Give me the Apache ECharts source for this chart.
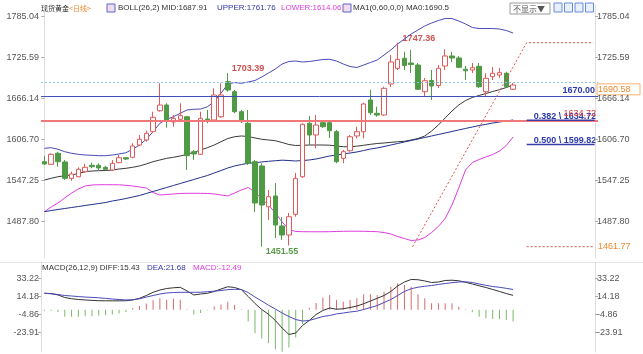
<!DOCTYPE html>
<html><head><meta charset="utf-8">
<script src="https://cdn.jsdelivr.net/npm/echarts@6/dist/echarts.min.js"></script>
<style>html,body{margin:0;padding:0;background:#fff}#c{width:643px;height:354px}</style>
</head><body><div id="c"></div>
<script>
// ---------- data ----------
const candleOpen = [1574.8,1571.0,1587.0,1574.4,1550.7,1553.0,1560.3,1569.6,1569.6,1566.7,1562.8,1573.4,1580.6,1581.2,1599.0,1606.3,1618.3,1648.7,1657.0,1632.4,1636.3,1640.0,1589.3,1585.5,1636.7,1635.3,1640.0,1690.8,1676.3,1647.3,1630.5,1574.8,1568.6,1509.5,1525.1,1481.6,1468.5,1498.5,1553.0,1630.5,1613.5,1631.4,1631.4,1618.3,1579.7,1590.7,1612.1,1618.3,1664.3,1645.0,1642.5,1687.5,1710.2,1724.7,1717.9,1715.0,1676.3,1692.5,1685.3,1713.6,1728.1,1725.2,1708.8,1707.8,1713.1,1676.3,1698.1,1700.5,1703.0,1679.8];
const candleClose = [1571.5,1585.5,1574.8,1550.7,1557.0,1563.8,1566.7,1567.5,1565.7,1563.8,1572.5,1580.6,1578.7,1597.6,1607.3,1616.0,1639.2,1657.0,1635.3,1637.7,1641.5,1583.5,1586.0,1637.7,1634.2,1671.5,1671.5,1678.8,1647.3,1632.8,1572.5,1514.9,1512.0,1524.0,1483.0,1468.5,1495.0,1550.7,1629.0,1613.5,1628.0,1625.5,1619.7,1574.8,1589.3,1611.0,1618.3,1658.5,1645.8,1642.5,1681.2,1719.4,1723.3,1714.3,1715.7,1679.8,1692.2,1684.6,1710.2,1728.1,1725.2,1711.7,1706.6,1711.1,1683.5,1695.7,1703.0,1703.9,1683.5,1686.0];
const candleLow = [1570.0,1570.0,1567.5,1548.3,1547.2,1552.2,1558.8,1565.2,1562.8,1561.8,1561.3,1572.5,1577.3,1579.7,1597.6,1603.8,1616.8,1647.3,1624.1,1625.5,1632.8,1562.8,1577.3,1584.5,1630.5,1633.8,1638.2,1676.3,1645.0,1630.9,1570.0,1501.9,1451.55,1490.3,1464.2,1461.3,1453.3,1495.0,1551.2,1599.0,1594.2,1623.7,1609.2,1572.5,1572.5,1589.3,1608.7,1608.7,1642.5,1640.0,1641.1,1683.1,1707.8,1707.8,1703.4,1678.8,1670.1,1664.3,1681.7,1707.8,1719.4,1710.7,1693.3,1703.4,1681.7,1669.0,1693.3,1696.2,1682.7,1678.8];
const candleHigh = [1583.5,1587.0,1589.3,1577.3,1560.3,1566.7,1571.5,1573.4,1572.5,1568.6,1577.3,1584.5,1581.2,1601.5,1613.5,1619.7,1647.3,1688.5,1659.5,1642.5,1659.5,1641.1,1591.8,1647.3,1649.8,1681.2,1688.5,1703.39,1678.8,1649.8,1649.8,1577.3,1572.5,1533.8,1543.9,1494.6,1500.4,1558.4,1630.5,1641.1,1642.5,1635.3,1634.3,1620.8,1591.8,1613.5,1625.5,1660.4,1678.8,1654.5,1683.5,1729.5,1747.36,1734.3,1736.8,1717.9,1696.2,1707.8,1715.0,1737.8,1733.9,1728.1,1713.6,1717.9,1717.9,1703.0,1712.1,1710.7,1705.3,1688.9];

const bollUpper = [1594.2,1595.1,1592.8,1589.3,1587.0,1585.5,1584.5,1584.1,1583.5,1583.5,1584.5,1586.0,1587.8,1592.8,1599.0,1607.3,1618.3,1630.5,1636.3,1640.0,1645.0,1649.8,1650.8,1651.2,1654.5,1661.8,1674.0,1687.5,1689.6,1688.5,1690.4,1692.5,1697.6,1703.4,1709.2,1716.5,1720.1,1720.8,1719.4,1720.1,1721.5,1723.0,1723.3,1720.8,1716.5,1712.8,1711.4,1715.0,1718.6,1722.3,1729.5,1736.8,1745.5,1752.7,1760.0,1765.8,1771.6,1775.9,1779.5,1782.4,1782.4,1778.8,1774.5,1769.4,1767.9,1767.9,1767.9,1767.2,1765.0,1761.4];
const bollMid = [1548.3,1550.7,1553.0,1554.5,1555.5,1557.7,1560.2,1561.3,1561.8,1562.0,1562.8,1564.2,1565.2,1566.7,1568.6,1571.5,1574.8,1577.3,1579.7,1581.2,1583.1,1585.5,1588.4,1591.8,1595.1,1599.0,1603.8,1608.4,1611.0,1612.1,1611.3,1609.2,1607.3,1606.3,1605.2,1602.6,1599.7,1598.3,1598.6,1599.0,1599.0,1599.0,1598.7,1597.6,1596.5,1596.5,1597.3,1598.6,1600.0,1601.2,1601.9,1602.9,1603.7,1604.4,1606.3,1608.4,1612.1,1619.3,1628.0,1638.2,1648.3,1657.0,1663.5,1667.9,1670.8,1673.7,1676.6,1679.2,1682.4,1686.0];
const bollLower = [1502.3,1509.1,1514.9,1522.2,1529.4,1535.2,1539.6,1541.0,1541.4,1541.4,1541.4,1541.3,1540.6,1539.6,1538.1,1536.7,1530.1,1526.5,1527.2,1528.0,1528.7,1529.0,1529.0,1529.0,1528.7,1528.0,1526.5,1525.1,1529.4,1533.8,1537.4,1530.9,1520.7,1512.0,1500.4,1487.4,1476.5,1473.6,1473.3,1473.2,1473.2,1473.2,1473.3,1473.6,1473.9,1474.0,1474.0,1473.9,1473.6,1473.3,1472.1,1470.0,1466.3,1463.4,1460.5,1461.3,1464.9,1472.1,1480.8,1492.4,1512.0,1536.7,1562.8,1573.6,1578.0,1581.6,1585.2,1590.3,1598.3,1610.6];
const ma60 = [1502.3,1504.0,1505.5,1506.9,1508.4,1509.8,1511.3,1512.7,1514.2,1515.6,1517.8,1519.5,1521.4,1523.6,1525.8,1528.7,1531.6,1534.5,1537.4,1540.3,1543.2,1546.1,1549.0,1551.9,1554.8,1558.4,1562.0,1565.7,1568.6,1570.7,1572.5,1573.4,1574.4,1575.4,1576.2,1577.0,1576.5,1575.8,1576.5,1577.3,1578.7,1580.9,1583.1,1584.5,1586.0,1587.4,1588.9,1591.0,1593.2,1594.7,1596.8,1599.0,1601.2,1603.4,1605.5,1607.7,1609.9,1612.1,1614.3,1616.4,1618.6,1620.8,1623.0,1625.1,1627.3,1629.0,1630.9,1632.4,1633.8,1635.3];

const macdHist = [-1,-1,-2.5,-7.5,-7.5,-7.5,-7,-7,-6.5,-6,-5,-4,-2.5,1.5,4,6.5,10,12,10.5,11.5,10.5,0.5,-5,-3.5,-0.5,3.5,5.5,8.5,5,0.5,-12.5,-25,-30.5,-35.5,-42,-44.5,-40,-29.5,-15,2,7,13,15.5,10.3,8.5,10.3,12.1,16.3,16.3,15.6,19,24.3,27.9,26.1,24.3,16.3,12.1,6.8,6.8,6.8,6.8,3.2,0.5,-2.8,-7.4,-9.1,-9.8,-10.2,-10.9,-12.5];
const macdDiff = [17.4,17.1,15.6,12.9,11.6,10.8,10.3,9.9,9.5,9.4,9.4,9.4,9.5,10.3,12.1,15.0,18.4,20.8,22.4,23.2,23.7,19.8,15.6,16.6,17.4,19.3,21.9,24.3,23.5,21.1,14.0,6.6,0.2,-4.9,-11.4,-19.4,-26.2,-24.7,-16.7,-11.4,-5.1,-0.8,1.8,0.5,1.0,2.3,3.9,6.3,9.2,12.1,15.0,19.3,25.1,29.3,32.0,31.7,30.4,28.8,29.3,30.9,31.2,30.6,29.0,27.2,25.3,23.5,21.4,19.3,17.1,15.2];
const macdDea = [17.4,16.8,16.1,15.0,14.5,13.9,13.4,13.0,12.6,12.0,11.3,10.8,10.3,10.5,11.5,13.4,15.0,16.6,17.7,18.2,18.4,18.4,18.4,18.5,19.0,19.6,20.3,21.2,21.6,21.4,18.2,13.4,9.2,4.7,0.7,-3.5,-7.2,-10.4,-12.0,-11.4,-9.3,-7.2,-6.1,-4.5,-3.5,-2.4,-1.6,0.2,2.3,4.4,7.6,10.8,15.0,19.3,22.2,23.8,24.8,25.6,26.7,27.7,28.6,29.3,29.5,28.8,27.2,25.8,24.5,23.7,22.6,21.4];

const priceTicks = [1487.80, 1547.25, 1606.70, 1666.14, 1725.59, 1785.04];
const macdTicks = [-23.91, -4.86, 14.18, 33.22];

const supportLevel = 1670.00;
const lastPrice = 1690.58;
const fibHigh = 1747.36, fibLow = 1451.55;
const fib382 = 1634.72, fib500 = 1599.82;
const fibLowLabel = 1461.77;
const fibStartIdx = 54.2, fibEndIdx = 71.0, fibRightIdx = 80.8;
const slotCount = 82;

// ---------- build ----------
const categories = Array.from({length: slotCount}, (_, i) => 'D' + (i + 1));
const candles = candleOpen.map((o, i) => [o, candleClose[i], candleLow[i], candleHigh[i]]);

const FONT = 'Liberation Sans, Arial, sans-serif';
const CJK = 'Noto Sans CJK SC, sans-serif';
const RED = '#e05a5a', GREEN = '#4f9a45', NAVY = '#3a3fa8', MAG = '#e03ce0', ORANGE = '#f0882a';

const priceMin = 1435.16, priceMax = 1803.46;
const macdMin = -44.75, macdMax = 50.47;

function yAxisCfg(grid, pos, ticks, mn, mx, off) {
  return {
    type: 'value', gridIndex: grid, position: pos, min: mn, max: mx, offset: off,
    axisLine: {show: true, lineStyle: {color: '#d8d8d8', type: 'dotted'}},
    axisTick: {show: true, customValues: ticks, length: 3, lineStyle: {color: '#aaa'}},
    axisLabel: {customValues: ticks, formatter: v => v.toFixed(2), color: '#555', fontSize: 9, fontFamily: FONT, margin: 2},
    splitLine: {show: false}
  };
}

const chart = echarts.init(document.getElementById('c'), null, {renderer: 'canvas'});
const option = {
  animation: false,
  backgroundColor: '#fff',
  grid: [
    {left: 41, width: 557, top: 4, height: 254},
    {left: 41, width: 557, top: 262, height: 90}
  ],
  xAxis: [
    {type: 'category', gridIndex: 0, data: categories, boundaryGap: true, axisLine: {show: false}, axisTick: {show: false}, axisLabel: {show: false}},
    {type: 'value', gridIndex: 0, min: -0.5, max: slotCount - 0.5, show: false},
    {type: 'category', gridIndex: 1, data: categories, boundaryGap: true, axisLine: {show: false}, axisTick: {show: false}, axisLabel: {show: false}}
  ],
  yAxis: [
    yAxisCfg(0, 'left', priceTicks, priceMin, priceMax, 0),
    yAxisCfg(0, 'right', priceTicks, priceMin, priceMax, -3),
    yAxisCfg(1, 'left', macdTicks, macdMin, macdMax, 0),
    yAxisCfg(1, 'right', macdTicks, macdMin, macdMax, -3)
  ],
  series: [
    {type: 'line', xAxisIndex: 0, yAxisIndex: 0, data: bollUpper, symbol: 'none', lineStyle: {color: '#4a4ab8', width: 1}, z: 3},
    {type: 'line', xAxisIndex: 0, yAxisIndex: 0, data: bollMid, symbol: 'none', lineStyle: {color: '#3a3a3a', width: 1}, z: 3},
    {type: 'line', xAxisIndex: 0, yAxisIndex: 0, data: bollLower, symbol: 'none', lineStyle: {color: MAG, width: 1}, z: 3},
    {type: 'line', xAxisIndex: 0, yAxisIndex: 0, data: ma60, symbol: 'none', lineStyle: {color: '#22308a', width: 1}, z: 3},
    {
      type: 'candlestick', xAxisIndex: 0, yAxisIndex: 0, data: candles, barWidth: 5, z: 4,
      itemStyle: {color: '#fff', color0: GREEN, borderColor: RED, borderColor0: GREEN, borderWidth: 1},
      markLine: {
        symbol: 'none', silent: true, animation: false,
        data: [
          {yAxis: lastPrice, lineStyle: {color: '#8cc4e8', type: [2, 2], width: 1}, label: {show: false}},
          {yAxis: supportLevel, lineStyle: {color: '#4050b8', type: 'solid', width: 1},
           label: {show: true, position: 'insideEndTop', formatter: supportLevel.toFixed(2), color: '#2c3aa8', fontWeight: 'bold', fontSize: 9, fontFamily: FONT, distance: [3, 1]}},
          {yAxis: fib382, lineStyle: {color: '#f07878', type: 'solid', width: 2}, z: 2,
           label: {show: true, position: 'insideEndTop', formatter: fib382.toFixed(2), color: '#e04040', fontSize: 9, fontFamily: FONT, distance: [2, 2]}}
        ]
      }
    },
    // fib drawing
    {type: 'line', xAxisIndex: 1, yAxisIndex: 0, clip: false, symbol: 'none', data: [[fibStartIdx, fibLow], [fibEndIdx, fibHigh], [fibRightIdx, fibHigh]], lineStyle: {color: '#e05050', type: [2, 2], width: 1}, z: 5},
    {type: 'line', xAxisIndex: 1, yAxisIndex: 0, clip: false, symbol: 'none', data: [[fibEndIdx, fibLow], [fibRightIdx, fibLow]], lineStyle: {color: '#e05050', type: [2, 2], width: 1}, z: 5},
    {type: 'line', xAxisIndex: 1, yAxisIndex: 0, clip: false, symbol: 'none', data: [[fibEndIdx, fib382], [fibRightIdx + 0.2, fib382]], lineStyle: {color: NAVY, width: 1.5}, z: 6},
    {type: 'line', xAxisIndex: 1, yAxisIndex: 0, clip: false, symbol: 'none', data: [[fibEndIdx, fib500], [fibRightIdx + 0.2, fib500]], lineStyle: {color: NAVY, width: 1.5}, z: 6},
    // MACD
    {type: 'bar', xAxisIndex: 2, yAxisIndex: 2, data: macdHist, barWidth: 1,
     itemStyle: {color: p => p.value >= 0 ? '#d66a6a' : '#7cb86c'}},
    {type: 'line', xAxisIndex: 2, yAxisIndex: 2, data: macdDiff, symbol: 'none', lineStyle: {color: '#333', width: 1}},
    {type: 'line', xAxisIndex: 2, yAxisIndex: 2, data: macdDea, symbol: 'none', lineStyle: {color: '#4a4ab8', width: 1}}
  ]
};
chart.setOption(option);

function px(idx, val) { return chart.convertToPixel({xAxisIndex: 1, yAxisIndex: 0}, [idx, val]); }
const hiIdx = candleHigh.indexOf(Math.max(...candleHigh));
const loIdx = candleLow.indexOf(Math.min(...candleLow));
const hi2Idx = 27;
const pHi = px(hiIdx, candleHigh[hiIdx]);
const pHi2 = px(hi2Idx, candleHigh[hi2Idx]);
const pLo = px(loIdx, candleLow[loIdx]);
const p382 = px(fibEndIdx, fib382);
const p500 = px(fibEndIdx, fib500);
const pLast = px(0, lastPrice);
const pFibLow = px(0, fibLow);

function txt(x, y, s, color, extra) {
  return Object.assign({type: 'text', x: x, y: y, style: Object.assign({text: s, fill: color, font: '9px ' + FONT, textVerticalAlign: 'middle'}, extra || {})});
}
const g = [];
// header
g.push(txt(41, 8, '现货黄金', '#222', {font: '7px ' + CJK}));
g.push(txt(69, 8, '<日线>', ORANGE, {font: '7px ' + CJK}));
g.push({type: 'rect', shape: {x: 107, y: 4, width: 8, height: 8}, style: {fill: '#f4dcef', stroke: '#5a64c8', lineWidth: 1}});
g.push(txt(118, 8, 'BOLL(26,2) MID:1687.91', '#333', {font: '8px ' + FONT}));
g.push(txt(217, 8, 'UPPER:1761.76', '#3535a5', {font: '8px ' + FONT}));
g.push(txt(281, 8, 'LOWER:1614.06', MAG, {font: '8px ' + FONT}));
g.push({type: 'rect', shape: {x: 343, y: 4, width: 8, height: 8}, style: {fill: '#f4dcef', stroke: '#5a64c8', lineWidth: 1}});
g.push(txt(353, 8, 'MA1(0,60,0,0) MA0:1690.5', '#333', {font: '8px ' + FONT}));
g.push({type: 'rect', shape: {x: 510, y: 3, width: 40, height: 11}, style: {fill: '#fff', stroke: '#999', lineWidth: 1}});
g.push(txt(513, 9, '不显示▼', '#555', {font: '8px ' + CJK}));
for (let k = 0; k < 4; k++) {
  g.push({type: 'rect', shape: {x: 554 + k * 10.5, y: 3, width: 8, height: 9}, style: {fill: '#e8f0fc', stroke: '#6a8ad8', lineWidth: 1}});
}
// macd legend
g.push(txt(42, 268, 'MACD(26,12,9) DIFF:15.43', '#333', {font: '8px ' + FONT}));
g.push(txt(147, 268, 'DEA:21.68', '#3535a5', {font: '8px ' + FONT}));
g.push(txt(193, 268, 'MACD:-12.49', MAG, {font: '8px ' + FONT}));
// extreme labels
g.push(txt(pHi[0] + 5, pHi[1] - 4, candleHigh[hiIdx].toFixed(2), '#d05050', {font: 'bold 9px ' + FONT}));
g.push(txt(pHi2[0] + 4, pHi2[1] - 4, candleHigh[hi2Idx].toFixed(2), '#d05050', {font: 'bold 9px ' + FONT}));
g.push(txt(pLo[0] + 4, pLo[1] + 5, candleLow[loIdx].toFixed(2), '#5a9a4a', {font: 'bold 9px ' + FONT}));
// fib labels
g.push(txt(p382[0] + 7, p382[1] - 4, '0.382 \\ ' + fib382.toFixed(2), '#2c3aa8', {font: 'bold 9px ' + FONT}));
g.push(txt(p500[0] + 7, p500[1] - 4, '0.500 \\ ' + fib500.toFixed(2), '#2c3aa8', {font: 'bold 9px ' + FONT}));
// right tags
g.push({type: 'rect', shape: {x: 597, y: pLast[1] + 2, width: 43, height: 11}, style: {fill: '#fff', stroke: '#f5b070', lineWidth: 1}});
g.push(txt(598, pLast[1] + 8, lastPrice.toFixed(2), ORANGE, {font: '9px ' + FONT}));
g.push(txt(598, pFibLow[1], fibLowLabel.toFixed(2), ORANGE, {font: '9px ' + FONT}));
// panel separator
g.push({type: 'line', shape: {x1: 0, y1: 262.5, x2: 643, y2: 262.5}, style: {stroke: '#e6e6e6', lineWidth: 1}});
chart.setOption({graphic: g});
</script></body></html>
